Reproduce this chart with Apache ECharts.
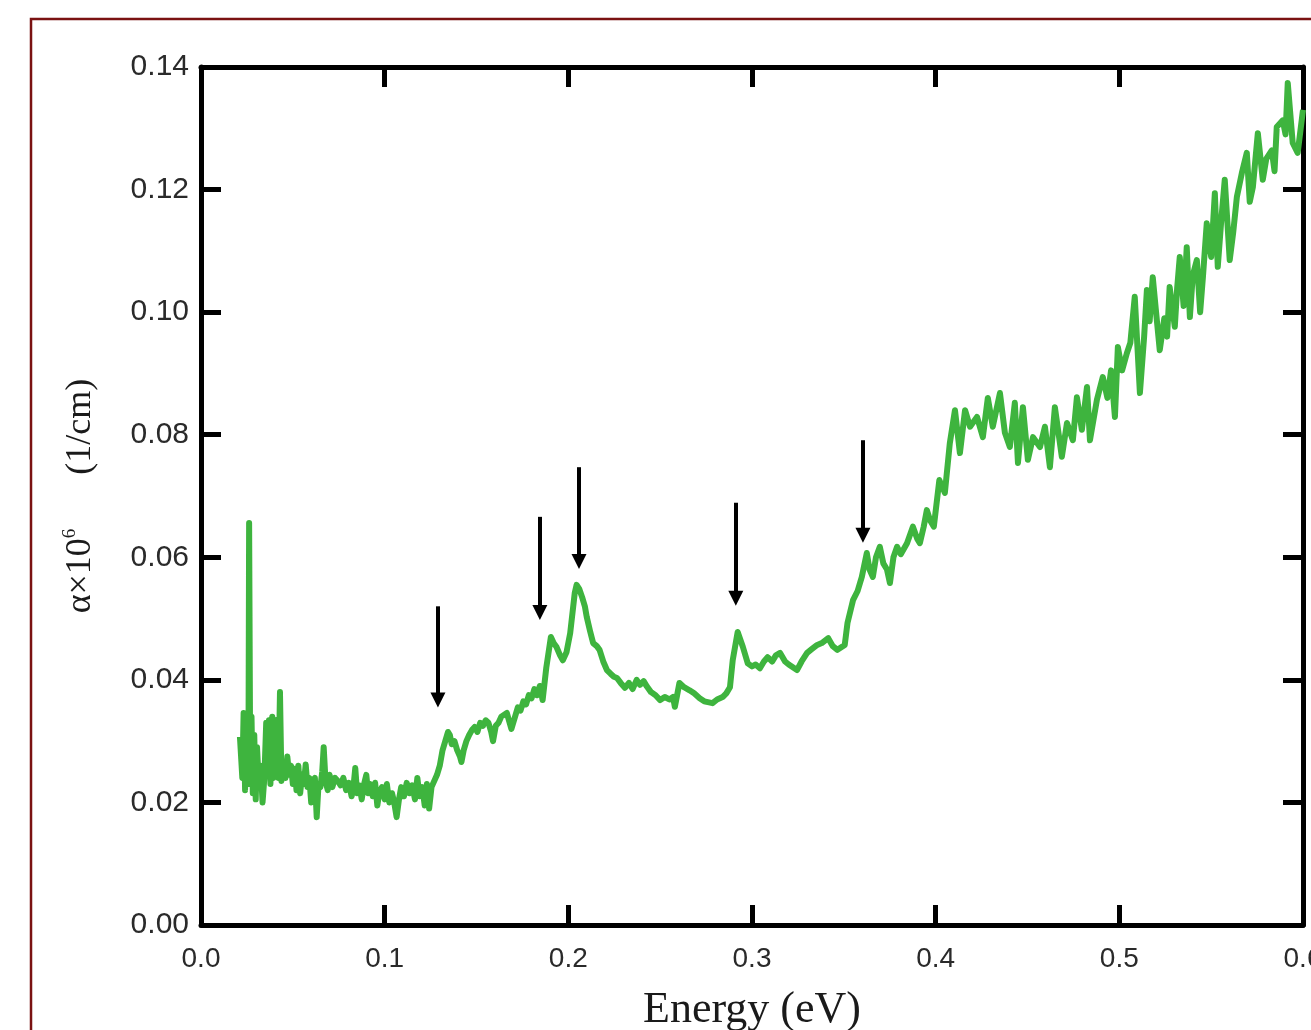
<!DOCTYPE html>
<html>
<head>
<meta charset="utf-8">
<script src="https://cdn.jsdelivr.net/npm/echarts@6/dist/echarts.min.js"></script>
<style>
html,body{margin:0;padding:0;background:#fff;}
#chart{width:1311px;height:1030px;}
</style>
</head>
<body>
<div id="chart"></div>
<script>
// Energy (eV)
const energy = [
0.0212,0.0225,0.0232,0.0240,0.0250,0.0258,0.0262,0.0268,0.0275,0.0282,0.0290,0.0298,0.0305,0.0315,0.0325,0.0335,0.0345,0.0355,0.0362,0.0370,0.0378,0.0388,0.0395,0.0405,0.0415,0.0422,0.0430,0.0438,
0.0450,0.0460,0.0470,0.0480,0.0490,0.0500,0.0510,0.0520,0.0530,0.0540,0.0550,0.0560,0.0570,0.0580,0.0590,0.0600,0.0610,0.0620,0.0630,0.0640,0.0650,0.0660,0.0668,0.0678,0.0690,0.0700,
0.0715,0.0730,0.0745,0.0760,0.0775,0.0790,0.0805,0.0820,0.0830,0.0840,0.0850,0.0862,0.0875,0.0888,0.0900,0.0910,0.0920,0.0935,0.0948,0.0960,0.0970,0.0985,0.1000,0.1012,0.1025,
0.1040,0.1052,0.1065,0.1078,0.1090,0.1105,0.1120,0.1135,0.1150,0.1165,0.1178,0.1190,0.1205,0.1218,0.1230,0.1242,0.1255,
0.1265,0.1285,0.1300,0.1315,0.1330,0.1345,0.1355,0.1365,0.1380,0.1395,0.1410,0.1418,0.1430,0.1445,0.1460,0.1475,0.1490,0.1505,0.1520,0.1535,0.1550,
0.1565,0.1580,0.1590,0.1605,0.1620,0.1635,0.1665,0.1690,0.1710,0.1725,0.1740,0.1755,0.1770,0.1785,0.1800,0.1815,0.1830,0.1845,0.1860,0.1880,0.1905,0.1920,0.1935,0.1955,0.1970,0.1990,
0.2010,0.2035,0.2045,0.2060,0.2075,0.2090,0.2100,0.2118,0.2135,0.2155,0.2170,0.2190,0.2210,0.2230,0.2248,0.2265,0.2285,0.2308,0.2330,0.2350,0.2372,0.2390,0.2410,0.2428,0.2450,0.2475,
0.2500,0.2525,0.2550,0.2570,0.2580,0.2605,0.2630,0.2660,0.2685,0.2715,0.2740,0.2785,0.2810,0.2840,0.2860,0.2880,0.2895,0.2922,0.2950,0.2977,0.3000,0.3020,0.3043,0.3065,0.3085,
0.3110,0.3130,0.3153,0.3180,0.3200,0.3245,0.3270,0.3300,0.3325,0.3355,0.3380,0.3415,0.3440,0.3465,0.3505,0.3520,0.3550,0.3575,0.3598,0.3625,0.3640,0.3658,0.3675,0.3696,0.3715,0.3735,
0.3751,0.3770,0.3790,0.3810,0.3844,0.3876,0.3900,0.3914,0.3935,0.3952,0.3970,0.3990,0.4020,0.4050,0.4077,0.4105,0.4132,0.4160,0.4187,0.4225,0.4257,0.4284,0.4311,0.4350,0.4377,0.4404,
0.4431,0.4448,0.4475,0.4502,0.4530,0.4568,0.4595,0.4622,0.4649,0.4687,0.4715,0.4747,0.4769,0.4796,0.4824,0.4840,0.4878,0.4910,0.4935,0.4955,0.4976,0.4992,0.5015,0.5041,0.5060,0.5084,
0.5112,0.5135,0.5150,0.5165,0.5182,0.5200,0.5220,0.5245,0.5260,0.5274,0.5302,0.5315,0.5329,0.5350,0.5367,0.5384,0.5400,0.5422,0.5440,0.5455,0.5476,0.5500,0.5520,0.5536,0.5555,
0.5574,0.5601,0.5620,0.5640,0.5667,0.5694,0.5710,0.5727,0.5754,0.5781,0.5800,0.5830,0.5845,0.5857,0.5890,0.5905,0.5917,0.5944,0.5971,0.6000
];
// alpha x 10^6 (1/cm)
const alpha = [
0.0307,0.0240,0.0346,0.0220,0.0330,0.0230,0.0656,0.0250,0.0340,0.0215,0.0310,0.0205,0.0290,0.0230,0.0260,0.0200,0.0240,0.0330,0.0250,0.0334,0.0230,0.0340,0.0240,0.0250,0.0335,0.0240,0.0380,0.0235,
0.0265,0.0240,0.0275,0.0245,0.0260,0.0230,0.0255,0.0220,0.0260,0.0215,0.0245,0.0230,0.0262,0.0225,0.0240,0.0200,0.0235,0.0240,0.0176,0.0230,0.0225,0.0250,0.0290,0.0235,0.0220,0.0245,
0.0225,0.0240,0.0235,0.0228,0.0240,0.0220,0.0232,0.0210,0.0225,0.0256,0.0215,0.0228,0.0205,0.0230,0.0245,0.0215,0.0230,0.0210,0.0232,0.0195,0.0215,0.0225,0.0205,0.0230,0.0200,
0.0215,0.0200,0.0176,0.0205,0.0225,0.0210,0.0232,0.0215,0.0228,0.0205,0.0240,0.0210,0.0225,0.0195,0.0230,0.0190,0.0225,
0.0225,0.0245,0.0260,0.0285,0.0300,0.0315,0.0310,0.0295,0.0300,0.0285,0.0275,0.0266,0.0285,0.0300,0.0310,0.0318,0.0323,0.0315,0.0330,0.0325,0.0334,
0.0330,0.0315,0.0300,0.0325,0.0330,0.0340,0.0346,0.0320,0.0340,0.0355,0.0350,0.0365,0.0360,0.0375,0.0370,0.0385,0.0375,0.0390,0.0367,0.0420,0.0470,0.0460,0.0454,0.0440,0.0432,0.0445,
0.0476,0.0542,0.0555,0.0548,0.0535,0.0520,0.0503,0.0480,0.0460,0.0455,0.0449,0.0430,0.0416,0.0410,0.0405,0.0403,0.0395,0.0387,0.0395,0.0385,0.0400,0.0392,0.0398,0.0389,0.0380,0.0375,
0.0367,0.0372,0.0368,0.0372,0.0356,0.0395,0.0388,0.0383,0.0378,0.0370,0.0365,0.0362,0.0368,0.0372,0.0378,0.0388,0.0432,0.0478,0.0454,0.0427,0.0422,0.0425,0.0419,0.0430,0.0437,
0.0430,0.0440,0.0444,0.0430,0.0425,0.0416,0.0430,0.0444,0.0450,0.0457,0.0460,0.0468,0.0455,0.0449,0.0457,0.0493,0.0530,0.0545,0.0568,0.0607,0.0580,0.0568,0.0600,0.0617,0.0590,0.0580,
0.0558,0.0600,0.0617,0.0605,0.0623,0.0650,0.0630,0.0623,0.0650,0.0677,0.0660,0.0650,0.0726,0.0705,0.0786,0.0840,0.0770,0.0840,0.0813,0.0829,0.0796,0.0860,0.0813,0.0868,0.0803,0.0780,
0.0852,0.0754,0.0845,0.0759,0.0796,0.0780,0.0813,0.0747,0.0845,0.0764,0.0819,0.0791,0.0861,0.0808,0.0878,0.0791,0.0857,0.0894,0.0860,0.0905,0.0829,0.0943,0.0905,0.0933,0.0950,0.1025,
0.0868,0.0960,0.1036,0.0985,0.1057,0.1000,0.0938,0.0990,0.0960,0.1041,0.0976,0.1040,0.1090,0.1010,0.1106,0.0992,0.1060,0.1085,0.1000,0.1057,0.1145,0.1090,0.1194,0.1074,0.1150,
0.1216,0.1085,0.1130,0.1188,0.1227,0.1260,0.1180,0.1204,0.1292,0.1216,0.1250,0.1264,0.1230,0.1302,0.1313,0.1290,0.1374,0.1276,0.1260,0.1330
];
// Arrow annotations: energy, start value, head value
const arrowX = [0.1290, 0.1845, 0.2058, 0.2912, 0.3604];
const arrowTop = [0.0520, 0.0666, 0.0747, 0.0689, 0.0791];
const arrowEnd = [0.0367, 0.0510, 0.0593, 0.0533, 0.0636];

const xTicks = {min: 0, max: 0.6, interval: 0.1};
const yTicks = {min: 0, max: 0.14, interval: 0.02};

const nPts = Math.min(energy.length, alpha.length);
const seriesData = energy.slice(0, nPts).map((e, i) => [e, alpha[i]]);
const arrowLines = arrowX.map((x, i) => [{coord: [x, arrowTop[i]]}, {coord: [x, arrowEnd[i]]}]);

const axisCommon = {
  type: 'value',
  axisLine: {show: true, onZero: false, lineStyle: {color: '#000', width: 5}},
  axisTick: {show: true, inside: true, length: 20, lineStyle: {color: '#000', width: 5}},
  splitLine: {show: false}
};

const chart = echarts.init(document.getElementById('chart'), null, {renderer: 'canvas'});
chart.setOption({
  animation: false,
  backgroundColor: '#fff',
  graphic: [{
    type: 'rect',
    shape: {x: 31, y: 19, width: 1400, height: 1100},
    style: {fill: 'none', stroke: '#7a1212', lineWidth: 2.5},
    silent: true, z: 0
  }],
  grid: {left: 201, top: 67, right: 8, bottom: 105, containLabel: false, outerBoundsMode: 'none'},
  xAxis: [
    Object.assign({}, axisCommon, xTicks, {
      position: 'bottom',
      name: 'Energy (eV)',
      nameLocation: 'middle',
      nameGap: 63,
      nameTextStyle: {fontFamily: 'Liberation Serif', fontSize: 44, color: '#1a1a1a'},
      axisLabel: {show: true, margin: 20, fontFamily: 'Liberation Sans', fontSize: 28, color: '#2a2a2a',
        formatter: v => v.toFixed(1)}
    }),
    Object.assign({}, axisCommon, xTicks, {position: 'top', axisLabel: {show: false}})
  ],
  yAxis: [
    Object.assign({}, axisCommon, yTicks, {
      position: 'left',
      name: '{a|α×10}{s|6}{a|      (1/cm)}',
      nameLocation: 'middle',
      nameRotate: 90,
      nameGap: 100,
      nameTextStyle: {
        fontFamily: 'Liberation Serif', fontSize: 36, color: '#1a1a1a',
        rich: {
          a: {fontFamily: 'Liberation Serif', fontSize: 36, lineHeight: 40, color: '#1a1a1a'},
          s: {fontFamily: 'Liberation Serif', fontSize: 19, lineHeight: 22, verticalAlign: 'top', color: '#1a1a1a'}
        }
      },
      axisLabel: {show: true, margin: 12, fontFamily: 'Liberation Sans', fontSize: 30, color: '#2a2a2a',
        formatter: v => v.toFixed(2)}
    }),
    Object.assign({}, axisCommon, yTicks, {position: 'right', axisLabel: {show: false}})
  ],
  series: [{
    type: 'line',
    xAxisIndex: 0,
    yAxisIndex: 0,
    data: seriesData,
    showSymbol: false,
    symbol: 'none',
    lineStyle: {color: '#3eb43e', width: 6, join: 'round'},
    clip: false,
    z: 3,
    markLine: {
      silent: true,
      animation: false,
      symbol: ['none', 'triangle'],
      symbolSize: [15, 15],
      label: {show: false},
      lineStyle: {color: '#000', width: 4, type: 'solid'},
      emphasis: {disabled: true},
      data: arrowLines
    }
  }]
});
</script>
</body>
</html>
